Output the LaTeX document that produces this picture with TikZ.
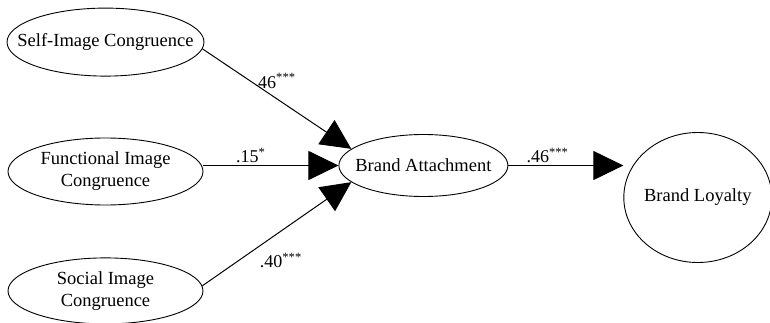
\documentclass[tikz,border=0pt]{standalone}
\usepackage{fontspec}
\setmainfont{Liberation Serif}
\usepackage{tikz}
\usetikzlibrary{positioning,arrows.meta,shapes.geometric}
\newcommand{\stars}[1]{\textsuperscript{#1}}

\begin{document}
\begin{tikzpicture}[
  x=1pt, y=1pt,
  lat/.style={draw, ellipse, inner xsep=-40pt, inner ysep=-20pt, align=center, line width=0.9pt, font=\fontsize{18.5}{22}\selectfont},
  coef/.style={font=\fontsize{18}{20}\selectfont, inner sep=2pt},
  arr/.style={-{Triangle[length=30pt, width=29pt]}, line width=1pt}
]
\useasboundingbox (0,0) rectangle (770,-323);
\node[lat, minimum width=195pt, minimum height=67pt] (fun) at (105.5,-171.5) {Functional Image\\Congruence};
\node[lat, minimum width=197pt, minimum height=68pt, above=61pt of fun] (sic) {Self-Image Congruence};
\node[lat, minimum width=195pt, minimum height=66pt, below=52pt of fun] (soc) {Social Image\\Congruence};
\node[lat, minimum width=169pt, minimum height=62pt, right=135pt of fun, yshift=6pt] (ba) {Brand Attachment};
\node[lat, minimum width=148pt, minimum height=130pt, right=115pt of ba, yshift=-32pt] (bl) {Brand Loyalty};

\draw[arr] (sic.-4) -- (ba.167) node[coef, pos=.5, above=8pt] {46\stars{***}};
\draw[arr] (fun.east |- ba.west) -- (ba.west) node[coef, pos=.35, above] {.15\stars{*}};
\draw[arr] (soc.3) -- (ba.-167) node[coef, pos=.37, below right, yshift=-3pt] {.40\stars{***}};
\draw[arr] (ba.east) -- (ba.east -| bl.west) node[coef, pos=.34, above] {.46\stars{***}};
\end{tikzpicture}
\end{document}
